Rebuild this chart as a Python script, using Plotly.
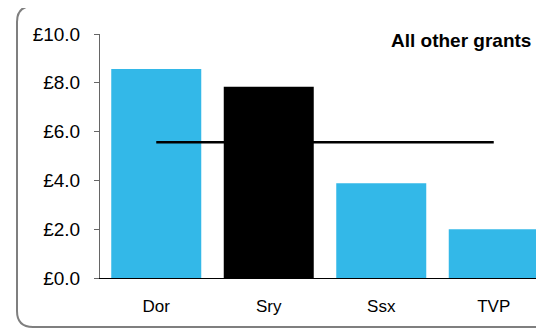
import plotly.graph_objects as go

categories = ["Dor", "Sry", "Ssx", "TVP"]
values = [8.57, 7.84, 3.88, 2.0]
average = [5.56, 5.56, 5.56, 5.56]
bar_colors = ["#33B8E8", "#000000", "#33B8E8", "#33B8E8"]
tick_vals = [0, 2, 4, 6, 8, 10]
tick_text = ["£0.0", "£2.0", "£4.0", "£6.0", "£8.0", "£10.0"]
title_text = "All other grants"

# page offset: browser body has an 8px default margin
OFF = 8
W, H = 544 - OFF, 331 - OFF
L, R, T, B = 100 - OFF, 0, 34 - OFF, 331 - 278
pw, ph = W - L - R, H - T - B

def px(x):
    # page pixel x -> paper
    return (x - OFF - L) / pw

def py(y):
    # page pixel y -> paper
    return (H - B - (y - OFF)) / ph

fig = go.Figure()
fig.add_trace(go.Bar(x=categories, y=values, marker=dict(color=bar_colors, line=dict(width=0)),
                     showlegend=False, hoverinfo="skip"))
fig.add_trace(go.Scatter(x=categories, y=average, mode="lines",
                         line=dict(color="#000000", width=2.5), showlegend=False, hoverinfo="skip"))

# rounded border
x0, x1, y0, y1, r = 17, 552, 6, 327, 16
path = (f"M {px(x0+r)},{py(y0)} L {px(x1-r)},{py(y0)} Q {px(x1)},{py(y0)} {px(x1)},{py(y0+r)} "
        f"L {px(x1)},{py(y1-r)} Q {px(x1)},{py(y1)} {px(x1-r)},{py(y1)} "
        f"L {px(x0+r)},{py(y1)} Q {px(x0)},{py(y1)} {px(x0)},{py(y1-r)} "
        f"L {px(x0)},{py(y0+r)} Q {px(x0)},{py(y0)} {px(x0+r)},{py(y0)} Z")
fig.add_shape(type="path", path=path, xref="paper", yref="paper",
              line=dict(color="#7F7F7F", width=2), layer="below")

fig.add_annotation(text="<b>" + title_text + "</b>", x=px(389), y=py(41), xref="paper", yref="paper",
                   xanchor="left", yanchor="middle", showarrow=False,
                   font=dict(family="Liberation Sans, Arial", size=19, color="#000000"))

fig.update_layout(
    width=W, height=H,
    margin=dict(l=L, r=R, t=T, b=B, pad=0),
    paper_bgcolor="white", plot_bgcolor="white",
    bargap=0.2,
    font=dict(family="Liberation Sans, Arial", color="#000000"),
    xaxis=dict(range=[-0.5, -0.5 + pw / 112.5], showgrid=False, zeroline=False,
               showline=True, linecolor="#000000", linewidth=1, ticks="",
               tickfont=dict(size=17), ticklabelstandoff=13, fixedrange=True),
    yaxis=dict(range=[0, 10], tickvals=tick_vals, ticktext=tick_text, showgrid=False,
               zeroline=False, showline=True, linecolor="#666666", linewidth=1,
               ticks="outside", ticklen=5, tickcolor="#666666",
               tickfont=dict(size=19), ticklabelstandoff=10, fixedrange=True),
)

fig.write_html("out.html")
